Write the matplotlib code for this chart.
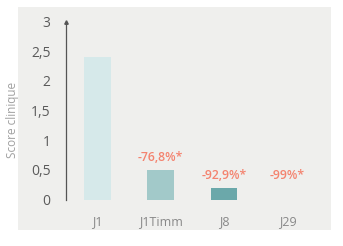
import matplotlib.pyplot as plt

# Data
jours = ['J1', 'J1Timm', 'J8', 'J29']
score = [2.4, 0.5, 0.2, 0.0]
reduction = ['', '-76,8%*', '-92,9%*', '-99%*']
couleurs = ['#d6e9ea', '#a2c9c9', '#6ba8aa', '#6ba8aa']

plt.rcParams['font.family'] = ['Open Sans', 'DejaVu Sans']

fig = plt.figure(figsize=(3.43, 2.46), dpi=100)
fig.patch.set_facecolor('white')
# light grey panel behind the chart
bg = fig.add_axes([0.0525, 0.065, 0.9125, 0.9065], zorder=0)
bg.set_facecolor('#efefed')
bg.set_xticks([])
bg.set_yticks([])
for s in bg.spines.values():
    s.set_visible(False)

ax = fig.add_axes([0.1924, 0.189, 0.738, 0.723], zorder=1)
ax.set_facecolor('none')

x = range(len(jours))
ax.bar(x, score, width=0.42, color=couleurs, edgecolor='none')

for i, lab in enumerate(reduction):
    if not lab:
        continue
    y = max(score[i], score[2])
    ax.annotate(lab, (i, y), xytext=(0, 4), textcoords='offset points',
                ha='center', va='bottom', color='#f4836f', fontsize=8.8, fontweight='semibold')

ax.set_xlim(-0.496, 3.5)
ax.set_ylim(0, 3)
ax.set_yticks([0, 0.5, 1, 1.5, 2, 2.5, 3])
ax.set_yticklabels(['0', '0,5', '1', '1,5', '2', '2,5', '3'])
ax.set_xticks(list(x))
ax.set_xticklabels(jours)
ax.tick_params(axis='y', length=0, pad=11, labelsize=10, labelcolor='#5a5a5a')
ax.tick_params(axis='x', length=0, pad=11, labelsize=9, labelcolor='#888888')

for s in ['top', 'right', 'bottom']:
    ax.spines[s].set_visible(False)
ax.spines['left'].set_color('#555555')
ax.spines['left'].set_linewidth(0.9)
ax.plot(0, 1, '^', color='#555555', ms=2.5, transform=ax.transAxes, clip_on=False)

ax.set_ylabel('Score clinique', fontsize=8.5, color='#a0a0a0')
ax.yaxis.set_label_coords(-0.185, 0.45)

fig.savefig('out.png', dpi=100)
